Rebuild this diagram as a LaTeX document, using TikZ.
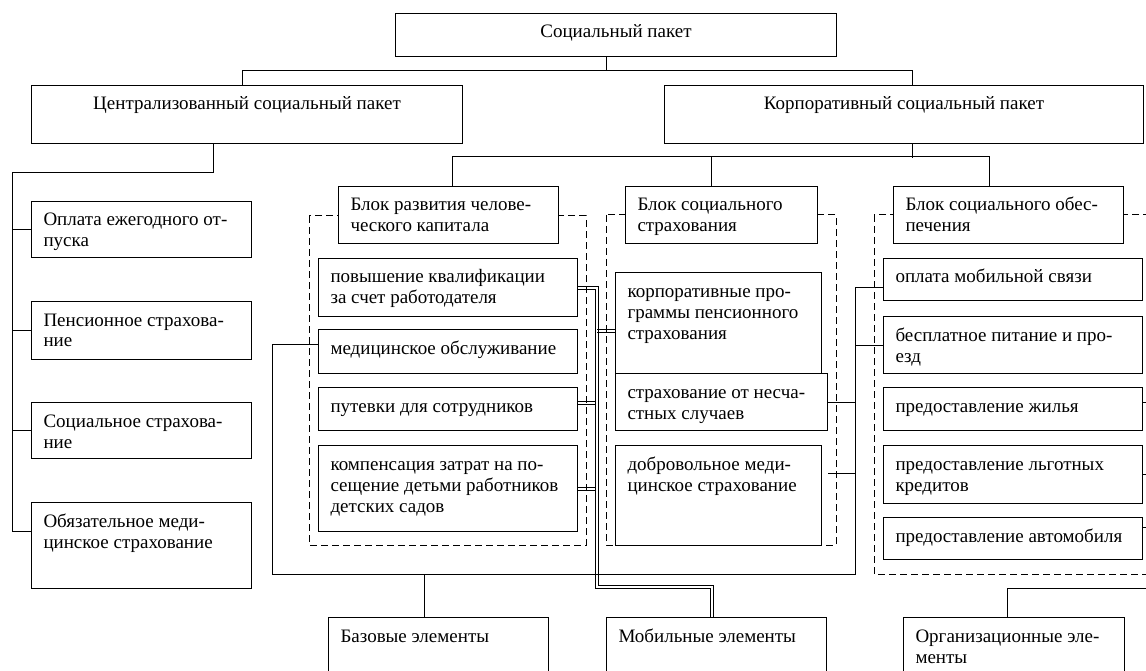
\documentclass[tikz,border=0pt]{standalone}
\usepackage{fontspec}
\setmainfont{Liberation Serif}
\usetikzlibrary{calc}
\tikzset{
  box/.style={draw, line width=1pt, fill=white, inner sep=0pt, anchor=north west,
    font=\fontsize{19}{21}\selectfont},
  conn/.style={line width=1pt},
  dline/.style={line width=1pt},
  blk/.style={line width=1pt, dash pattern=on 7pt off 4pt},
}
\newcommand\txl{\leftskip=12pt\rightskip=-80pt plus 1fil\relax}
\newcommand\txc{\leftskip=0pt plus 1fil\rightskip=0pt plus 1fil\parfillskip=0pt\relax}
\newcommand\bx[7]{%
  \node[box] (#1) at (#2,#3) {\parbox[c][\dimexpr #5pt-#3pt\relax][t]{\dimexpr #4pt-#2pt\relax}{#6\vskip 9.8pt\strut #7\par}};%
}
\begin{document}
\begin{tikzpicture}[x=1pt,y=-1pt]
\useasboundingbox (0,0) rectangle (1146,671);
\clip (0,0) rectangle (1146,671);
% dashed blocks
\draw[blk] (309,216) rectangle (586,545);
\draw[blk] (606,215) rectangle (836,545);
\draw[blk] (874,215) rectangle (1170,574);
% boxes
\bx{top}{395}{13}{836}{56}{\txc}{Социальный пакет}
\bx{cent}{31}{85}{462}{143}{\txc}{Централизованный социальный пакет}
\bx{corp}{664}{85}{1143}{143}{\txc}{Корпоративный социальный пакет}
\bx{l1}{31}{201}{251}{257}{\txl}{Оплата ежегодного от-\\пуска}
\bx{l2}{31}{301}{251}{359}{\txl}{Пенсионное страхова-\\ние}
\bx{l3}{31}{402}{251}{458}{\txl}{Социальное страхова-\\ние}
\bx{l4}{31}{502}{251}{588}{\txl}{Обязательное меди-\\цинское страхование}
\bx{b1}{338}{186}{558}{243}{\txl}{Блок развития челове-\\ческого капитала}
\bx{b2}{625}{186}{817}{243}{\txl}{Блок социального\\страхования}
\bx{b3}{893}{186}{1123}{243}{\txl}{Блок социального обес-\\печения}
\bx{b1a}{318}{258}{577}{316}{\txl}{повышение квалификации\\за счет работодателя}
\bx{b1b}{318}{329}{577}{373}{\txl}{медицинское обслуживание}
\bx{b1c}{318}{387}{577}{430}{\txl}{путевки для сотрудников}
\bx{b1d}{318}{445}{577}{531}{\txl}{компенсация затрат на по-\\сещение детьми работников\\детских садов}
\bx{b2a}{615}{272}{821}{373}{\txl}{корпоративные про-\\граммы пенсионного\\страхования}
\bx{b2b}{615}{373}{827}{430}{\txl}{страхование от несча-\\стных случаев}
\bx{b2c}{615}{445}{821}{545}{\txl}{добровольное меди-\\цинское страхование}
\bx{b3a}{883}{258}{1142}{300}{\txl}{оплата мобильной связи}
\bx{b3b}{883}{316}{1142}{373}{\txl}{бесплатное питание и про-\\езд}
\bx{b3c}{883}{387}{1142}{430}{\txl}{предоставление жилья}
\bx{b3d}{883}{445}{1142}{503}{\txl}{предоставление льготных\\кредитов}
\bx{b3e}{883}{517}{1142}{559}{\txl}{предоставление автомобиля}
\bx{base}{328}{617}{548}{700}{\txl}{Базовые элементы}
\bx{mob}{606}{617}{826}{700}{\txl}{Мобильные элементы}
\bx{org}{903}{617}{1124}{700}{\txl}{Организационные эле-\\менты}
% top level connectors
\draw[conn] ([xshift=-9.5]top.south) -- ++(0,14) -| ([xshift=-4.5]cent.north);
\draw[conn] ([xshift=-9.5]top.south) ++(0,14) -| ([xshift=8.5]corp.north);
\draw[conn] ([xshift=-33.5]cent.south) -- ++(0,29) -| ([xshift=-19,yshift=14]l4.west) -- ([yshift=14]l4.west);
\foreach \n in {l1,l2,l3} \draw[conn] ([xshift=-19]\n.west) -- (\n.west);
\draw[conn] ([xshift=8.5]corp.south) -- ++(0,14);
\draw[conn] ([xshift=4]b1.north) -- ++(0,-29) -| ([xshift=-19]b3.north);
\draw[conn] ([xshift=-10]b2.north) -- ++(0,-29);
% mobile elements network (double lines)
\draw[dline] ([yshift=1.5]b1a.east) -- ++(20,0) |- ([xshift=-3.5,yshift=31.5]mob.north) -- ([xshift=-3.5]mob.north);
\draw[dline] ([yshift=-1.5]b1a.east) -- ++(17,0) |- ([xshift=-6.5,yshift=28.5]mob.north) -- ([xshift=-6.5]mob.north);
\draw[dline] ([yshift=8]b1c.east) -- ++(17,0);
\draw[dline] ([yshift=5]b1c.east) -- ++(17,0);
\draw[dline] ([yshift=1.5]b1d.east) -- ++(17,0);
\draw[dline] ([yshift=-1.5]b1d.east) -- ++(17,0);
\draw[dline] ([yshift=-6]b2a.west) -- ++(-18,0);
\draw[dline] ([yshift=-9]b2a.west) -- ++(-18,0);
% base elements network
\draw[conn] ([yshift=7]b1b.west) -- ++(-46,0) -- ++(0,230) -| ([xshift=-28,yshift=-8]b3a.west) -- ([yshift=-8]b3a.west);
\draw[conn] ([xshift=-28]b3b.west) -- (b3b.west);
\draw[conn] (b2b.east) -- ++(28,0);
\draw[conn] ([xshift=6,yshift=22]b2c.east) -- ++(28,0);
\draw[conn] ([xshift=-14]base.north) -- ++(0,-43);
% organisational elements network
\draw[conn] ([xshift=-6.5]org.north) -- ++(0,-29) -- ++(160,0);
\draw[conn] ([yshift=6.5]b3c.east) -- ++(10,0);
\draw[conn] (b3d.east) -- ++(10,0);
\draw[conn] ([yshift=11]b3e.east) -- ++(10,0);
\end{tikzpicture}
\end{document}
